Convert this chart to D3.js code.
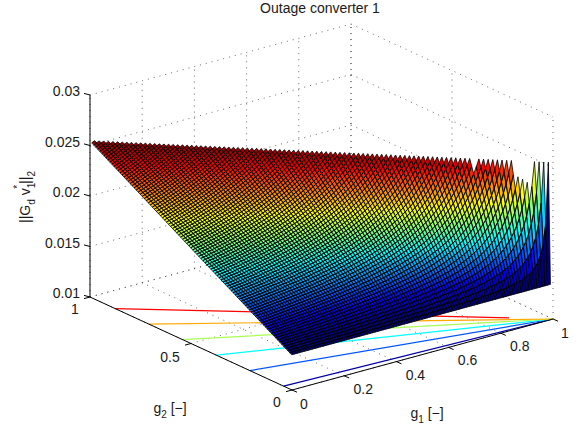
<!DOCTYPE html>
<html><head><meta charset="utf-8">
<script src="https://cdn.jsdelivr.net/npm/d3@7"></script>
<style>html,body{margin:0;background:#fff}svg{display:block}text{font-family:"Liberation Sans",Arial,sans-serif;fill:#1a1a1a;font-size:14px}</style>
</head><body><svg id="c" width="579" height="430"></svg>
<script>
// ---- values ----
const titleText = "Outage converter 1";
const g1Ticks = [0, 0.2, 0.4, 0.6, 0.8, 1];
const g2Ticks = [0, 0.5, 1];
const zTicks = [0.01, 0.015, 0.02, 0.025, 0.03];
const zTickLabels = ["0.01", "0.015", "0.02", "0.025", "0.03"];
// height along the g1 = 0 edge, as a function of the ratio g2/(1-g1)
const ratioAnchors = [0, 0.2, 0.4, 0.6, 0.8, 1];
const zAnchors = [0.0135, 0.0159, 0.0183, 0.0207, 0.0231, 0.0255];
const contourLevels = [0.014, 0.016, 0.018, 0.02, 0.022, 0.024];
const contourEnds = [1, 1, 1, 1, 1, 0.9];      // g1 where each floor contour stops
const gridStepsPerUnit = 100;
const droppedTips = [5, 6, 7, 8, 17];          // tips missing from the g1+g2=1 edge

// ---- layout ----
const svg = d3.select("#c");
const pX1 = d3.scaleLinear([0, 1], [0, 261]), pY1 = d3.scaleLinear([0, 1], [0, -71]);
const pX2 = d3.scaleLinear([0, 1], [0, -202]), pY2 = d3.scaleLinear([0, 1], [0, -93]);
const pZ = d3.scaleLinear([0.01, 0.03], [0, -202]);
const ox = 292, oy = 390;
const P = (a, b, z) => [ox + pX1(a) + pX2(b), oy + pY1(a) + pY2(b) + pZ(z)];
const line = d3.line();
const zMin = d3.min(zAnchors), zMax = d3.max(zAnchors), zBot = zTicks[0], zTop = zTicks[zTicks.length - 1];
const heightOf = d3.scaleLinear(ratioAnchors, zAnchors);
const ratioOf = d3.scaleLinear(zAnchors, ratioAnchors);
const jetStops = [0, .125, .375, .625, .875, 1];
const jetColors = ["#000080", "#0000ff", "#00ffff", "#ffff00", "#ff0000", "#800000"];
const jet = d3.scaleLinear().domain(jetStops.map(t => zMin + t * (zMax - zMin))).range(jetColors).interpolate(d3.interpolateRgb).clamp(true);

// dotted grid on the floor and the two back walls
const gridG = svg.append("g").attr("fill", "none").attr("stroke", "#444").attr("stroke-width", 0.8).attr("stroke-dasharray", "1 5");
const seg = (a, b) => gridG.append("path").attr("d", line([a, b]));
g1Ticks.forEach(t => { seg(P(t, 0, zBot), P(t, 1, zBot)); seg(P(t, 1, zBot), P(t, 1, zTop)); });
g2Ticks.forEach(t => { seg(P(0, t, zBot), P(1, t, zBot)); seg(P(1, t, zBot), P(1, t, zTop)); });
zTicks.forEach(z => { seg(P(0, 1, z), P(1, 1, z)); seg(P(1, 1, z), P(1, 0, z)); });

// floor contours
contourLevels.forEach((lv, k) => {
  const t = ratioOf(lv), e = contourEnds[k];
  svg.append("path").attr("fill", "none").attr("stroke", jet(lv)).attr("stroke-width", 1.2)
    .attr("d", line([P(0, t, zBot), P(e, t * (1 - e), zBot)]));
});

// surface, painted far to near; a row's mesh lines go down after the next nearer row is filled
const n = gridStepsPerUnit, h = 1 / n;
const zAt = (i, j) => i >= n ? zMin : heightOf(j / (n - i));
const V = (a, b) => P(a * h, b * h, zAt(a, b));
const marks = [];
const rowCells = i => d3.range(n - 2 - i, -1, -1)
  .filter(j => !(i + j === n - 2 && droppedTips.includes(j + 1))).map(j => ({i, j}));
for (let i = n - 2; i >= -1; i--) {
  if (i >= 0) rowCells(i).forEach(c => marks.push({...c, kind: "fill"}));
  if (i + 1 <= n - 2) rowCells(i + 1).forEach(c => marks.push({...c, kind: "edge"}));
}
const cellPath = ({i, j}) => line([[i, j], [i + 1, j], [i + 1, j + 1], [i, j + 1]].map(([a, b]) => V(a, b))) + "Z";
svg.append("g").attr("stroke-linejoin", "bevel").attr("stroke-linecap", "round")
  .selectAll("path").data(marks).join("path")
  .attr("fill", d => d.kind === "fill" ? jet(zAt(d.i, d.j)) : "none")
  .attr("stroke", d => d.kind === "fill" ? jet(zAt(d.i, d.j)) : "#000")
  .attr("stroke-width", d => d.kind === "fill" ? 0.2 : 0.75)
  .attr("d", cellPath);

// axes
const axG = svg.append("g").attr("fill", "none").attr("stroke", "#000").attr("stroke-width", 1);
const ax = (a, b) => axG.append("path").attr("d", line([a, b]));
ax(P(0, 0, zBot), P(1, 0, zBot));
ax(P(0, 0, zBot), P(0, 1, zBot));
ax(P(0, 1, zBot), P(0, 1, zTop));
const off = (p, dx, dy) => [p[0] + dx, p[1] + dy];
g1Ticks.forEach(t => { const p = P(t, 0, zBot); ax(p, off(p, 5, 2.2)); });
g2Ticks.forEach(t => { const p = P(0, t, zBot); ax(p, off(p, -6, 1.6)); });
zTicks.forEach(z => { const p = P(0, 1, z); ax(p, off(p, -6, -1.6)); });

// labels
const txt = (x, y, s, anchor = "middle") => svg.append("text").attr("x", x).attr("y", y).attr("text-anchor", anchor).text(s);
txt(320, 13, titleText);
g1Ticks.forEach(t => { const p = P(t, 0, zBot), whole = t === 0 || t === 1; txt(p[0] + (whole ? 12 : 19), p[1] + (whole ? 19 : 18), String(t)); });
g2Ticks.forEach(t => { const p = P(0, t, zBot), whole = t === 0 || t === 1; txt(p[0] - (whole ? 15 : 21), p[1] + (whole ? 17 : 18), String(t)); });
zTicks.forEach((z, k) => { const p = P(0, 1, z); txt(p[0] - 10, p[1] + 1, zTickLabels[k], "end"); });
const lab = (x, y, parts, rot) => {
  const t = svg.append("text").attr("text-anchor", "middle")
    .attr("transform", `translate(${x},${y})` + (rot ? ` rotate(${rot})` : ""));
  parts.forEach(([s, d, fs, dx]) => t.append("tspan").attr("dy", d).attr("dx", dx || 0).attr("font-size", fs).text(s));
};
lab(170, 413, [["g", 0, 14], ["2", 5, 10], [" [−]", -5, 14]]);
lab(427, 418, [["g", 0, 14], ["1", 5, 10], [" [−]", -5, 14]]);
lab(30, 197, [["||G", 0, 14], ["d", 5, 10], [" v", -5, 14], ["1", 5, 10], ["*", -14, 10, -6], ["||", 9, 14, 1], ["2", 5, 10]], -90);
</script></body></html>
